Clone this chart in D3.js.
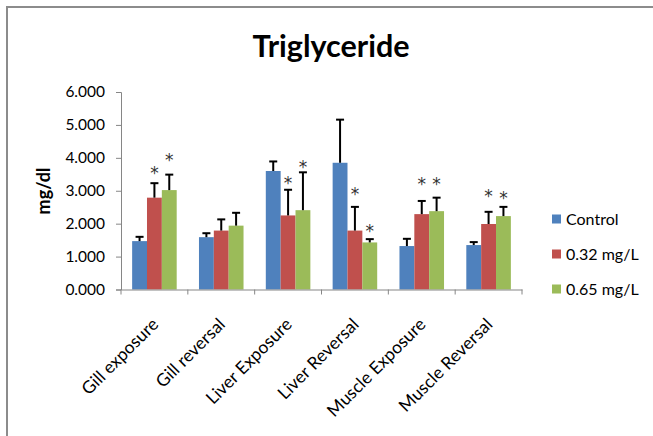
<!DOCTYPE html>
<html><head><meta charset="utf-8">
<script src="https://cdn.jsdelivr.net/npm/d3@7"></script>
<style>body{margin:0;background:#fff}svg{display:block}text{font-family:Lato,"Open Sans",sans-serif}</style>
</head><body><div id="chart"></div>
<script>
const categories = ["Gill exposure","Gill reversal","Liver Exposure","Liver Reversal","Muscle Exposure","Muscle Reversal"];
const seriesNames = ["Control","0.32 mg/L","0.65 mg/L"];
const controlVals = [1.47,1.59,3.60,3.85,1.32,1.35];
const controlErr  = [0.13,0.12,0.29,1.31,0.22,0.09];
const low032Vals  = [2.79,1.79,2.25,1.79,2.29,1.99];
const low032Err   = [0.44,0.34,0.78,0.72,0.40,0.37];
const high065Vals = [3.02,1.94,2.41,1.43,2.38,2.23];
const high065Err  = [0.47,0.39,1.15,0.10,0.41,0.28];
// significance star levels (data units), null = no star
const controlStar = [null,null,null,null,null,null];
const low032Star  = [3.66,null,3.35,3.02,3.33,2.97];
const high065Star = [4.06,null,3.85,1.91,3.33,2.90];
const yTicks = [0,1,2,3,4,5,6];
const colors = ["#4F81BD","#C0504D","#9BBB59"];

const W=653,H=436;
const svg=d3.select("#chart").append("svg").attr("width",W).attr("height",H);
svg.append("path").attr("d",`M7,${H} L7,7 L${W},7`).attr("fill","none").attr("stroke","#8c8c8c").attr("stroke-width",2);

const plot={left:121,right:522,top:92,bottom:289.5};
const x=d3.scaleBand().domain(categories).range([plot.left,plot.right]).paddingInner(0).paddingOuter(0);
const x1=d3.scaleBand().domain(seriesNames).range([0,x.bandwidth()]).paddingOuter(0.75);
const y=d3.scaleLinear().domain([0,6]).range([plot.bottom,plot.top]);

const series=[
 {name:seriesNames[0],vals:controlVals,err:controlErr,star:controlStar},
 {name:seriesNames[1],vals:low032Vals,err:low032Err,star:low032Star},
 {name:seriesNames[2],vals:high065Vals,err:high065Err,star:high065Star}
];

// y axis
const ya=svg.append("g").attr("transform",`translate(${plot.left},0)`)
 .call(d3.axisLeft(y).tickValues(yTicks).tickFormat(d3.format(".3f")).tickSize(5).tickPadding(11));
ya.select(".domain").attr("stroke","#868686");
ya.selectAll(".tick line").attr("stroke","#868686");
ya.selectAll(".tick text").attr("font-size",15.5).attr("fill","#000").style("font-family","Lato");

// bars
categories.forEach((c,i)=>{
 series.forEach((s,j)=>{
  const bx=x(c)+x1(s.name), bw=x1.bandwidth();
  svg.append("rect").attr("x",bx).attr("y",y(s.vals[i])).attr("width",bw)
   .attr("height",y(0)-y(s.vals[i])).attr("fill",colors[j]);
  const cx=bx+bw/2, top=y(s.vals[i]+s.err[i]);
  svg.append("line").attr("x1",cx).attr("x2",cx).attr("y1",y(s.vals[i])).attr("y2",top).attr("stroke","#000").attr("stroke-width",2);
  svg.append("line").attr("x1",cx-4).attr("x2",cx+4).attr("y1",top).attr("y2",top).attr("stroke","#000").attr("stroke-width",2);
  if(s.star[i]!=null){
   svg.append("text").attr("x",cx).attr("y",y(s.star[i])+10).attr("text-anchor","middle")
    .style("font-family","'DejaVu Sans'").attr("font-size",17).attr("fill","#333").text("*");
  }
 });
});

// x axis
const xa=svg.append("g").attr("transform",`translate(0,${plot.bottom})`)
 .call(d3.axisBottom(x).tickSize(0).tickFormat(""));
xa.select(".domain").attr("stroke","#868686");
xa.selectAll(".tick").remove();
const bounds=[plot.left].concat(categories.map(c=>x(c)+x.bandwidth()));
svg.selectAll("line.xt").data(bounds).enter().append("line").attr("class","xt")
 .attr("x1",d=>d).attr("x2",d=>d).attr("y1",plot.bottom).attr("y2",plot.bottom+5).attr("stroke","#868686");
svg.selectAll("text.xl").data(categories).enter().append("text").attr("class","xl")
 .attr("transform",c=>`translate(${x(c)+x.bandwidth()/2+5},${plot.bottom+36}) rotate(-45)`)
 .attr("text-anchor","end").attr("font-size",17.5).attr("fill","#000").text(c=>c);

// y label
svg.append("text").attr("transform","translate(50,191) rotate(-90)").attr("text-anchor","middle")
 .attr("font-size",18).attr("font-weight","bold").text("mg/dl");

// title
svg.append("text").attr("x",331).attr("y",57).attr("text-anchor","middle").attr("font-size",30.5).attr("font-weight","bold").text("Triglyceride");

// legend
const lg=svg.append("g");
seriesNames.forEach((n,j)=>{
 const ly=219+j*35;
 lg.append("rect").attr("x",552).attr("y",ly-4.5).attr("width",9).attr("height",9).attr("fill",colors[j]);
 lg.append("text").attr("x",566).attr("y",ly+6).attr("font-size",16).attr("fill","#000").text(n);
});
</script></body></html>
